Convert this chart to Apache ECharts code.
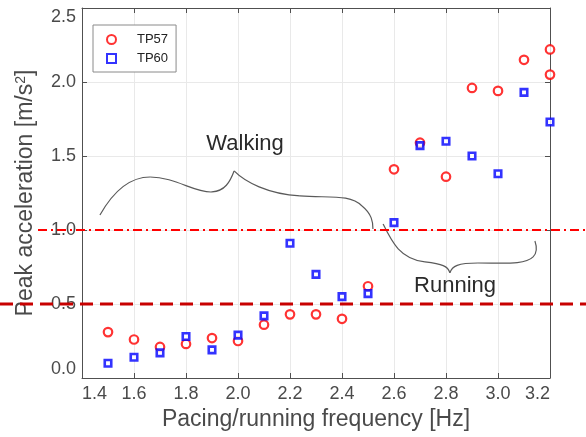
<!DOCTYPE html>
<html>
<head>
<meta charset="utf-8">
<script src="https://cdn.jsdelivr.net/npm/echarts@6/dist/echarts.min.js"></script>
<style>
  html, body { margin: 0; padding: 0; background: #ffffff; }
  #chart { width: 586px; height: 437px; }
</style>
</head>
<body>
<div id="chart"></div>
<script>
// Peak acceleration measured for two test persons at each pacing/running frequency
const freqTP57 = [1.5, 1.6, 1.7, 1.8, 1.9, 2.0, 2.1, 2.2, 2.3, 2.4, 2.5, 2.6, 2.7, 2.8, 2.9, 3.0, 3.1, 3.2, 3.2];
const accTP57  = [0.31, 0.26, 0.21, 0.23, 0.27, 0.25, 0.36, 0.43, 0.43, 0.40, 0.62, 1.41, 1.59, 1.36, 1.96, 1.94, 2.15, 2.22, 2.05];
const freqTP60 = [1.5, 1.6, 1.7, 1.8, 1.9, 2.0, 2.1, 2.2, 2.3, 2.4, 2.5, 2.6, 2.7, 2.8, 2.9, 3.0, 3.1, 3.2];
const accTP60  = [0.10, 0.14, 0.17, 0.28, 0.19, 0.29, 0.42, 0.91, 0.70, 0.55, 0.57, 1.05, 1.57, 1.60, 1.50, 1.38, 1.93, 1.73];

// Comfort limits drawn as horizontal reference lines
const limitLower = 0.5;
const limitUpper = 1.0;

// Axis ranges and tick steps
const xRange = [1.4, 3.2];
const xStep = 0.2;
const yRange = [0.0, 2.5];
const yStep = 0.5;

const seriesNames = ['TP57', 'TP60'];
const regionLabels = ['Walking', 'Running'];

const FONT = '"Liberation Sans", Arial, Helvetica, sans-serif';
const AXIS_COLOR = '#505050';
const LABEL_COLOR = '#4a4a4a';
const GRID_COLOR = '#e9e9e9';

const chart = echarts.init(document.getElementById('chart'), null, { renderer: 'canvas' });

const fmt1 = v => Number(v).toFixed(1);

function mainX() {
  return {
    type: 'value', min: xRange[0], max: xRange[1], interval: xStep,
    position: 'bottom',
    name: 'Pacing/running frequency [Hz]',
    nameLocation: 'middle', nameGap: 20,
    nameTextStyle: { fontFamily: FONT, fontSize: 23, color: LABEL_COLOR },
    axisLine: { show: true, onZero: false, lineStyle: { color: AXIS_COLOR, width: 1 } },
    axisTick: { show: true, inside: true, length: 5, lineStyle: { color: AXIS_COLOR } },
    axisLabel: {
      fontFamily: FONT, fontSize: 18, color: LABEL_COLOR, margin: 7,
      formatter: fmt1, alignMinLabel: 'left', alignMaxLabel: 'right'
    },
    splitLine: { show: true, lineStyle: { color: GRID_COLOR, width: 1 } }
  };
}
function mirrorX() {
  return {
    type: 'value', min: xRange[0], max: xRange[1], interval: xStep,
    position: 'top',
    axisLine: { show: true, onZero: false, lineStyle: { color: AXIS_COLOR, width: 1 } },
    axisTick: { show: true, inside: true, length: 5, lineStyle: { color: AXIS_COLOR } },
    axisLabel: { show: false },
    splitLine: { show: false }
  };
}
function mainY() {
  return {
    type: 'value', min: yRange[0], max: yRange[1], interval: yStep,
    position: 'left',
    name: 'Peak acceleration [m/s{sup|2}]',
    nameLocation: 'middle', nameGap: 45, nameRotate: 90,
    nameTextStyle: {
      fontFamily: FONT, fontSize: 23, color: LABEL_COLOR,
      rich: { sup: { fontFamily: FONT, fontSize: 14, color: LABEL_COLOR, verticalAlign: 'top', padding: [0, 0, 8, 0] } }
    },
    axisLine: { show: true, onZero: false, lineStyle: { color: AXIS_COLOR, width: 1 } },
    axisTick: { show: true, inside: true, length: 5, lineStyle: { color: AXIS_COLOR } },
    axisLabel: {
      fontFamily: FONT, fontSize: 18, color: LABEL_COLOR, margin: 6,
      formatter: fmt1, verticalAlignMinLabel: 'bottom', verticalAlignMaxLabel: 'top'
    },
    splitLine: { show: true, lineStyle: { color: GRID_COLOR, width: 1 } }
  };
}
function mirrorY() {
  return {
    type: 'value', min: yRange[0], max: yRange[1], interval: yStep,
    position: 'right',
    axisLine: { show: true, onZero: false, lineStyle: { color: AXIS_COLOR, width: 1 } },
    axisTick: { show: true, inside: true, length: 5, lineStyle: { color: AXIS_COLOR } },
    axisLabel: { show: false },
    splitLine: { show: false }
  };
}

chart.setOption({
  animation: false,
  backgroundColor: '#ffffff',
  grid: { left: 82, right: 36, top: 8, bottom: 59 },
  xAxis: [mainX(), mirrorX()],
  yAxis: [mainY(), mirrorY()],
  legend: {
    orient: 'vertical', left: 93, top: 25,
    backgroundColor: '#ffffff', borderColor: '#8a8a8a', borderWidth: 1, borderRadius: 0,
    padding: [8, 8, 7, 13],
    itemWidth: 9, itemHeight: 9, itemGap: 6,
    textStyle: { fontFamily: FONT, fontSize: 13, color: '#222222', padding: [0, 0, 0, 16] },
    data: seriesNames
  },
  series: [
    {
      name: seriesNames[0], type: 'scatter', xAxisIndex: 0, yAxisIndex: 0,
      data: freqTP57.map((f, i) => [f, accTP57[i]]),
      symbol: 'circle', symbolSize: 8.5, clip: false,
      itemStyle: { color: '#ffffff', borderColor: '#ff0000', borderWidth: 2.2 },
      z: 3
    },
    {
      name: seriesNames[1], type: 'scatter', xAxisIndex: 0, yAxisIndex: 0,
      data: freqTP60.map((f, i) => [f, accTP60[i]]),
      symbol: 'rect', symbolSize: 6.5, clip: false,
      itemStyle: { color: '#ffffff', borderColor: '#0000ff', borderWidth: 2.6 },
      z: 4
    }
  ]
});

// Overlay: limit lines running across the whole figure, curly braces and region labels
function toPx(x, y) { return chart.convertToPixel({ gridIndex: 0 }, [x, y]); }

function braceCurves(segments) {
  return segments.map(s => {
    const p0 = toPx(s[0], s[1]), c1 = toPx(s[2], s[3]), c2 = toPx(s[4], s[5]), p1 = toPx(s[6], s[7]);
    return {
      type: 'bezierCurve', silent: true, z: 5,
      shape: { x1: p0[0], y1: p0[1], cpx1: c1[0], cpy1: c1[1], cpx2: c2[0], cpy2: c2[1], x2: p1[0], y2: p1[1] },
      style: { stroke: '#5a5a5a', lineWidth: 1.2, fill: null }
    };
  });
}

// Brace outlines in data units (frequency, acceleration)
const walkingBrace = [
  [1.469, 1.101, 1.519, 1.257, 1.585, 1.358, 1.662, 1.358],
  [1.662, 1.358, 1.758, 1.358, 1.835, 1.250, 1.900, 1.257],
  [1.900, 1.257, 1.950, 1.264, 1.969, 1.324, 1.985, 1.399],
  [1.985, 1.399, 2.027, 1.324, 2.115, 1.243, 2.238, 1.230],
  [2.238, 1.230, 2.354, 1.216, 2.431, 1.243, 2.477, 1.162],
  [2.477, 1.162, 2.515, 1.108, 2.519, 1.054, 2.519, 1.007]
];
const runningBrace = [
  [2.558, 1.041, 2.592, 0.919, 2.623, 0.804, 2.719, 0.784],
  [2.719, 0.784, 2.785, 0.770, 2.808, 0.757, 2.815, 0.710],
  [2.815, 0.710, 2.823, 0.757, 2.846, 0.777, 2.923, 0.777],
  [2.923, 0.777, 3.027, 0.777, 3.104, 0.764, 3.135, 0.818],
  [3.135, 0.818, 3.150, 0.845, 3.150, 0.885, 3.142, 0.926]
];

function drawOverlay() {
  const W = chart.getWidth();
  const yLow = chart.convertToPixel({ yAxisIndex: 0 }, limitLower);
  const yUp = chart.convertToPixel({ yAxisIndex: 0 }, limitUpper);
  const wPos = toPx(2.027, 1.581);
  const rPos = toPx(2.835, 0.622);
  const graphics = [
    {
      type: 'line', silent: true, z: 6,
      shape: { x1: 0, y1: yLow, x2: W, y2: yLow },
      style: { stroke: '#c80000', lineWidth: 3, lineDash: [13, 7] }
    },
    {
      type: 'line', silent: true, z: 6,
      shape: { x1: 38, y1: yUp, x2: W, y2: yUp },
      style: { stroke: '#ff0000', lineWidth: 2, lineDash: [9, 4, 2, 4] }
    },
    {
      type: 'text', silent: true, z: 6, x: wPos[0], y: wPos[1],
      style: { text: regionLabels[0], font: '22px ' + FONT, fill: '#2a2a2a', align: 'center', verticalAlign: 'middle' }
    },
    {
      type: 'text', silent: true, z: 6, x: rPos[0], y: rPos[1],
      style: { text: regionLabels[1], font: '22px ' + FONT, fill: '#2a2a2a', align: 'center', verticalAlign: 'middle' }
    }
  ].concat(braceCurves(walkingBrace), braceCurves(runningBrace));
  chart.setOption({ graphic: graphics });
}
drawOverlay();
</script>
</body>
</html>
